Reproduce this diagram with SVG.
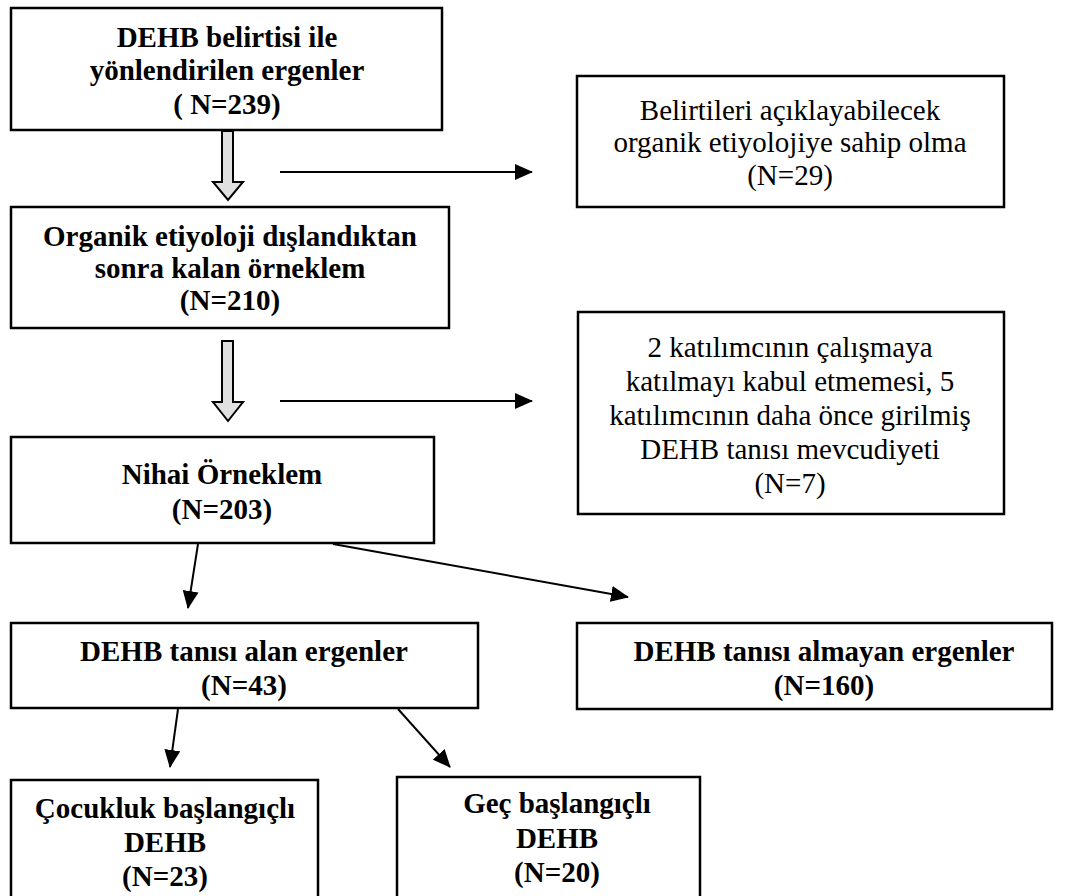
<svg xmlns="http://www.w3.org/2000/svg" width="1067" height="896" viewBox="0 0 1067 896">
  <style>
    .box { fill: #ffffff; stroke: #000000; stroke-width: 2.5; }
    .t { font-family: 'Liberation Serif', Tinos, 'Times New Roman', Times, 'DejaVu Serif', 'Noto Serif', serif; font-size: 29px; fill: #000000; text-anchor: middle; }
    .b { font-weight: bold; }
    .link { fill: none; stroke: #000000; stroke-width: 2; }
    .hollow { fill: #e0e0e0; stroke: #000000; stroke-width: 2; stroke-linejoin: miter; }
  </style>
  <defs>
    <marker id="head" markerUnits="userSpaceOnUse" markerWidth="18" markerHeight="16" refX="17" refY="8" orient="auto">
      <path d="M0,0 L18,8 L0,16 Z" fill="#000000"/>
    </marker>
  </defs>
  <rect width="1067" height="896" fill="#ffffff"/>

  <g id="n-referred">
    <rect class="box" x="11" y="8" width="431" height="122"/>
    <text class="t b" x="227" y="47">DEHB belirtisi ile</text>
    <text class="t b" x="227" y="80">yönlendirilen ergenler</text>
    <text class="t b" x="227" y="114">( N=239)</text>
  </g>

  <g id="n-organic">
    <rect class="box" x="577" y="76" width="427" height="131"/>
    <text class="t" x="790" y="120">Belirtileri açıklayabilecek</text>
    <text class="t" x="790" y="152">organik etiyolojiye sahip olma</text>
    <text class="t" x="790" y="185">(N=29)</text>
  </g>

  <g id="n-remaining">
    <rect class="box" x="11" y="207" width="438" height="121"/>
    <text class="t b" x="230" y="246">Organik etiyoloji dışlandıktan</text>
    <text class="t b" x="230" y="278">sonra kalan örneklem</text>
    <text class="t b" x="230" y="310">(N=210)</text>
  </g>

  <g id="n-excluded">
    <rect class="box" x="578" y="312" width="426" height="202"/>
    <text class="t" x="790" y="357">2 katılımcının çalışmaya</text>
    <text class="t" x="790" y="391">katılmayı kabul etmemesi, 5</text>
    <text class="t" x="790" y="425">katılımcının daha önce girilmiş</text>
    <text class="t" x="790" y="459">DEHB tanısı mevcudiyeti</text>
    <text class="t" x="790" y="493">(N=7)</text>
  </g>

  <g id="n-final">
    <rect class="box" x="11" y="437" width="423" height="106"/>
    <text class="t b" x="222" y="484">Nihai Örneklem</text>
    <text class="t b" x="222" y="519">(N=203)</text>
  </g>

  <g id="n-adhd">
    <rect class="box" x="11" y="623" width="467" height="85"/>
    <text class="t b" x="244" y="661">DEHB tanısı alan ergenler</text>
    <text class="t b" x="244" y="695">(N=43)</text>
  </g>

  <g id="n-no-adhd">
    <rect class="box" x="577" y="623" width="475" height="86"/>
    <text class="t b" x="824" y="661">DEHB tanısı almayan ergenler</text>
    <text class="t b" x="824" y="695">(N=160)</text>
  </g>

  <g id="n-childhood">
    <rect class="box" x="11" y="780" width="307" height="140"/>
    <text class="t b" x="165" y="818">Çocukluk başlangıçlı</text>
    <text class="t b" x="165" y="852">DEHB</text>
    <text class="t b" x="165" y="886">(N=23)</text>
  </g>

  <g id="n-late">
    <rect class="box" x="397" y="777" width="303" height="140"/>
    <text class="t b" x="557" y="813">Geç başlangıçlı</text>
    <text class="t b" x="557" y="848">DEHB</text>
    <text class="t b" x="557" y="882">(N=20)</text>
  </g>

  <g id="connectors">
    <!-- hollow block arrows between the main stages -->
    <path class="hollow" d="M222,131 L233,131 L233,182 L243,182 L228,200 L213,182 L222,182 Z"/>
    <path class="hollow" d="M222,341 L233,341 L233,402 L243,402 L228,421 L213,402 L222,402 Z"/>
    <!-- exclusion arrows -->
    <line class="link" x1="280" y1="172" x2="532" y2="172" marker-end="url(#head)"/>
    <line class="link" x1="280" y1="401" x2="532" y2="401" marker-end="url(#head)"/>
    <!-- split of the final sample -->
    <line class="link" x1="198" y1="544" x2="188" y2="608" marker-end="url(#head)"/>
    <line class="link" x1="333" y1="544" x2="628" y2="597" marker-end="url(#head)"/>
    <!-- onset subgroups -->
    <line class="link" x1="178" y1="709" x2="170" y2="767" marker-end="url(#head)"/>
    <line class="link" x1="398" y1="709" x2="450" y2="767" marker-end="url(#head)"/>
  </g>
</svg>
